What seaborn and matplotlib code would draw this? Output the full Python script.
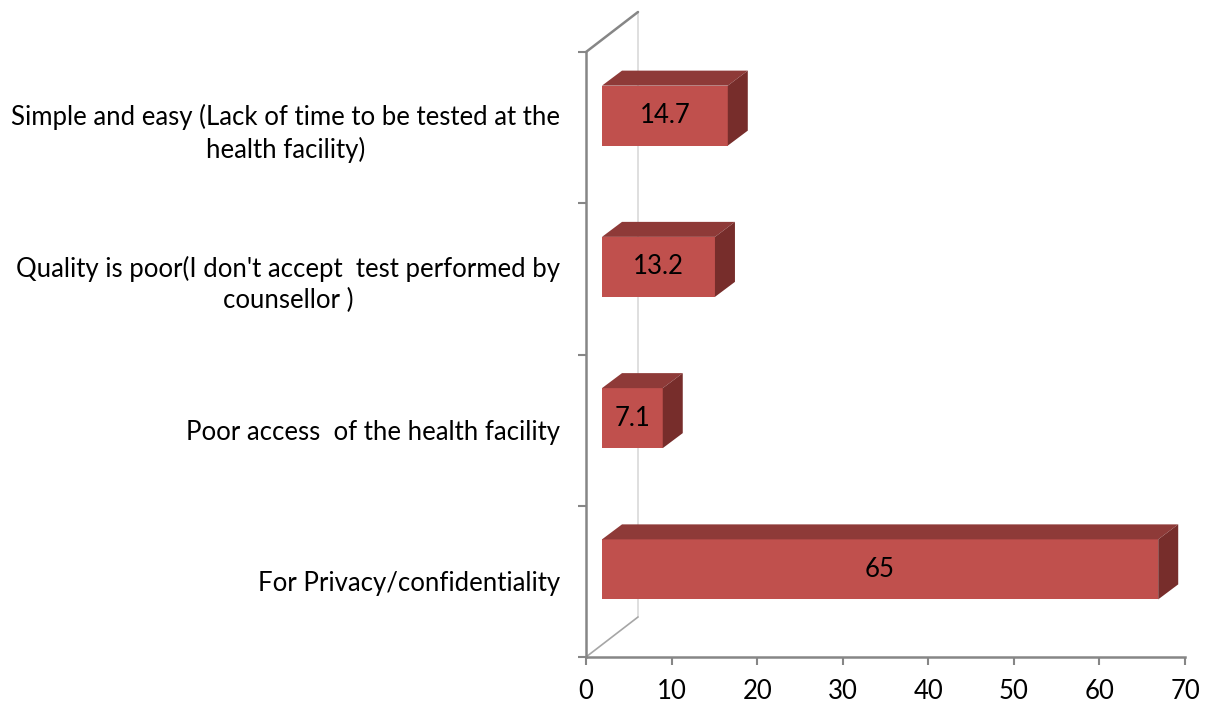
import numpy as np
import pandas as pd
import matplotlib
matplotlib.use("Agg")
import matplotlib.pyplot as plt
import seaborn as sns
from matplotlib.patches import Polygon
from matplotlib.lines import Line2D
from matplotlib.transforms import ScaledTranslation, IdentityTransform

categories = [
    "Simple and easy (Lack of time to be tested at the\nhealth facility)",
    "Quality is poor(I don't accept  test performed by\ncounsellor )",
    "Poor access  of the health facility",
    "For Privacy/confidentiality",
]
values = [14.7, 13.2, 7.1, 65]
value_labels = ["14.7", "13.2", "7.1", "65"]
x_ticks = [0, 10, 20, 30, 40, 50, 60, 70]

FRONT = "#C0504D"
TOP = "#8E3A38"
SIDE = "#772D2B"
AXIS = "#868686"
BACKLINE = "#D9D9D9"

sns.set_theme(style="white")
plt.rcParams["font.family"] = ["Lato", "DejaVu Sans"]

FS = 18.5

W, H, DPI = 1206, 709, 100
fig = plt.figure(figsize=(W / DPI, H / DPI), dpi=DPI)
ax = fig.add_axes([586 / W, 1 - 657 / H, (1185 - 586) / W, (657 - 52) / H])

df = pd.DataFrame({"reason": categories, "pct": values})
sns.barplot(data=df, y="reason", x="pct", orient="h", color=FRONT,
            saturation=1, width=60 / 151.25, ax=ax, linewidth=0)

ax.set_xlim(0, 70)
ax.set_ylim(3.5, -0.5)
ax.set_xticks(x_ticks)
ax.set_xticklabels([str(t) for t in x_ticks])
ax.set_xlabel("")
ax.set_ylabel("")

# 3D geometry (pixel offsets)
front_off = (16, 12)
depth = (20, 15)
wall = (52, 40)

fig.canvas.draw()
shift = ScaledTranslation(front_off[0] / DPI, front_off[1] / DPI, fig.dpi_scale_trans)
for patch, lab in zip(ax.patches, value_labels):
    x0, y0 = patch.get_x(), patch.get_y()
    w, h = patch.get_width(), patch.get_height()
    patch.set_transform(ax.transData + shift)
    patch.set_clip_on(False)
    (xl, yb) = ax.transData.transform((x0, y0 + h))
    (xr, yt) = ax.transData.transform((x0 + w, y0))
    xl += front_off[0]; xr += front_off[0]
    yb += front_off[1]; yt += front_off[1]
    top = Polygon([(xl, yt), (xr, yt), (xr + depth[0], yt + depth[1]), (xl + depth[0], yt + depth[1])],
                  closed=True, facecolor=TOP, edgecolor="none", transform=IdentityTransform(), clip_on=False)
    side = Polygon([(xr, yt), (xr, yb), (xr + depth[0], yb + depth[1]), (xr + depth[0], yt + depth[1])],
                   closed=True, facecolor=SIDE, edgecolor="none", transform=IdentityTransform(), clip_on=False)
    ax.add_artist(top)
    ax.add_artist(side)
    ax.text((xl + xr) / 2, (yt + yb) / 2, lab, transform=IdentityTransform(),
            ha="center", va="center", fontsize=FS, color="black")

# back wall lines
(ax0, ay_top) = ax.transData.transform((0, -0.5))
(_, ay_bot) = ax.transData.transform((0, 3.5))
ax.add_artist(Line2D([ax0 + wall[0], ax0 + wall[0]], [ay_bot + wall[1], ay_top + wall[1]],
                     color=BACKLINE, lw=1.2, transform=IdentityTransform(), clip_on=False, zorder=0.5))
ax.add_artist(Line2D([ax0, ax0 + wall[0]], [ay_top, ay_top + wall[1]],
                     color=AXIS, lw=1.8, transform=IdentityTransform(), clip_on=False))
ax.add_artist(Line2D([ax0, ax0 + wall[0]], [ay_bot, ay_bot + wall[1]],
                     color="#A6A6A6", lw=1.2, transform=IdentityTransform(), clip_on=False))

for s in ["top", "right"]:
    ax.spines[s].set_visible(False)
for s in ["left", "bottom"]:
    ax.spines[s].set_color(AXIS)
    ax.spines[s].set_linewidth(1.8)

ax.tick_params(axis="y", which="major", length=0, pad=18.5, labelsize=FS, labelcolor="black")
ax.set_yticks(range(len(categories)))
ax.set_yticklabels(categories, multialignment="center", linespacing=1.3)
ax.set_yticks([-0.5, 0.5, 1.5, 2.5, 3.5], minor=True)
ax.tick_params(axis="y", which="minor", left=True, length=6, width=1.5, color=AXIS)
ax.tick_params(axis="x", which="major", bottom=True, length=6, width=1.5, color=AXIS,
               pad=10, labelsize=FS, labelcolor="black")

fig.savefig("out.png", dpi=DPI)
